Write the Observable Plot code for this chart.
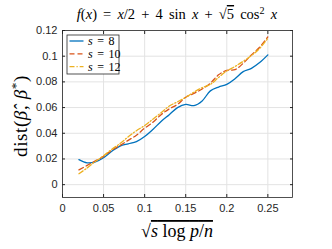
<!DOCTYPE html>
<html>
<head>
<meta charset="utf-8">
<script src="https://cdn.jsdelivr.net/npm/d3@7"></script>
<script src="https://cdn.jsdelivr.net/npm/@observablehq/plot@0.6"></script>
<style>
  html, body { margin: 0; padding: 0; background: #fff; }
  #chart svg { display: block; }
</style>
</head>
<body>
<div id="chart"></div>
<script>
// ---- data ----
const xValues = [0.02,0.03,0.04,0.05,0.06,0.07,0.08,0.09,0.10,0.11,0.12,0.13,0.14,0.15,0.16,0.17,0.18,0.19,0.20,0.21,0.22,0.23,0.24,0.25];
const s8  = [0.0195,0.0170,0.0178,0.0210,0.0260,0.0300,0.0318,0.0335,0.0375,0.0430,0.0492,0.0545,0.0600,0.0625,0.0615,0.0652,0.0730,0.0760,0.0780,0.0825,0.0880,0.0905,0.0950,0.1010];
const s10 = [0.0115,0.0150,0.0185,0.0220,0.0268,0.0305,0.0345,0.0385,0.0440,0.0485,0.0545,0.0590,0.0625,0.0680,0.0710,0.0745,0.0790,0.0855,0.0890,0.0895,0.0945,0.1010,0.1070,0.1150];
const s12 = [0.0085,0.0130,0.0180,0.0225,0.0275,0.0320,0.0372,0.0420,0.0460,0.0510,0.0560,0.0612,0.0645,0.0680,0.0720,0.0755,0.0780,0.0835,0.0885,0.0920,0.0960,0.1005,0.1060,0.1140];
const seriesNames = ["8", "10", "12"];
const seriesColors = ["#0072BD", "#D95319", "#EDB120"];
const seriesDash = [null, "5,3", "5,2,1.2,2"];
const xTicks = [0, 0.05, 0.1, 0.15, 0.2, 0.25];
const yTicks = [0, 0.02, 0.04, 0.06, 0.08, 0.1, 0.12];

const seriesValues = [s8, s10, s12];
const rows = [];
seriesValues.forEach((vals, i) => vals.forEach((v, j) => rows.push({x: xValues[j], y: v, s: seriesNames[i]})));

const fmt = d3.format("~g");
const lineMarks = seriesNames.map((name, i) =>
  Plot.line(rows.filter(r => r.s === name), {
    x: "x", y: "y", stroke: seriesColors[i], strokeWidth: 1.3,
    strokeDasharray: seriesDash[i], curve: "catmull-rom"
  })
);

const svg = Plot.plot({
  width: 332, height: 249,
  marginLeft: 62, marginRight: 40, marginTop: 30, marginBottom: 52,
  style: {fontFamily: "'Liberation Sans', Arial, sans-serif", fontSize: "11px", color: "#262626", background: "#fff"},
  x: {domain: [0, 0.28]},
  y: {domain: [-0.01, 0.12]},
  marks: [
    Plot.gridX(xTicks, {stroke: "#e3e3e3", strokeOpacity: 1}),
    Plot.gridY(yTicks, {stroke: "#e3e3e3", strokeOpacity: 1}),
    ...lineMarks,
    Plot.axisX(xTicks, {tickSize: -3, tickPadding: 10, tickFormat: fmt, label: null, stroke: "#262626"}),
    Plot.axisX(xTicks, {anchor: "top", tickSize: -3, tickFormat: () => "", label: null, stroke: "#262626"}),
    Plot.axisY(yTicks, {tickSize: -3, tickPadding: 8, tickFormat: fmt, label: null, stroke: "#262626"}),
    Plot.axisY(yTicks, {anchor: "right", tickSize: -3, tickFormat: () => "", label: null, stroke: "#262626"}),
    Plot.frame({stroke: "#262626", strokeWidth: 0.8})
  ]
});
document.getElementById("chart").appendChild(svg);

// ---- rich text annotations (title, axis labels, legend) ----
const root = d3.select(svg);
const serif = "'Liberation Serif', 'DejaVu Serif', serif";

function rich(sel, parts) {
  parts.forEach(p => {
    const t = sel.append("tspan").text(p.t);
    if (p.i) t.attr("font-style", "italic");
    if (p.sup) t.attr("baseline-shift", "super").attr("font-size", "70%");
    if (p.o) t.attr("text-decoration", "overline");
  });
}

// title
const title = root.append("text").attr("x", 177).attr("y", 19)
  .attr("text-anchor", "middle").attr("font-family", serif).attr("font-size", 14.5).attr("fill", "#000")
  .attr("word-spacing", 2.5);
rich(title, [
  {t: "f", i: 1}, {t: "("}, {t: "x", i: 1}, {t: ") = "}, {t: "x", i: 1}, {t: "/2 + 4 sin "}, {t: "x", i: 1},
  {t: " + √"}, {t: "5", o: 1}, {t: " cos"}, {t: "2", sup: 1}, {t: " "}, {t: "x", i: 1}
]);

// y label
const ylab = root.append("text").attr("transform", "translate(27,116) rotate(-90)")
  .attr("text-anchor", "middle").attr("font-family", serif).attr("font-size", 19).attr("fill", "#000")
  .attr("letter-spacing", 0.6);
rich(ylab, [{t: "dist("}, {t: "β̂", i: 1}, {t: ", "}, {t: "β", i: 1}, {t: "*", sup: 1}, {t: ")"}]);

// x label
const xlab = root.append("text").attr("x", 177).attr("y", 237)
  .attr("text-anchor", "middle").attr("font-family", serif).attr("font-size", 18).attr("fill", "#000");
rich(xlab, [{t: "√"}, {t: "s", i: 1, o: 1}]);
xlab.append("tspan").attr("text-decoration", "overline").text(" log ");
xlab.append("tspan").attr("text-decoration", "overline").attr("font-style", "italic").text("p");
xlab.append("tspan").attr("text-decoration", "overline").text("/");
xlab.append("tspan").attr("text-decoration", "overline").attr("font-style", "italic").text("n");

// legend
const lg = root.append("g").attr("transform", "translate(67,35)");
lg.append("rect").attr("width", 52).attr("height", 39).attr("fill", "#fff").attr("stroke", "#262626").attr("stroke-width", 0.8);
seriesNames.forEach((name, i) => {
  const cy = 6 + i * 12.8;
  lg.append("line").attr("x1", 2.5).attr("x2", 16.5).attr("y1", cy).attr("y2", cy)
    .attr("stroke", seriesColors[i]).attr("stroke-width", 1.3)
    .attr("stroke-dasharray", seriesDash[i]);
  const t = lg.append("text").attr("x", 21).attr("y", cy + 4).attr("text-anchor", "start")
    .attr("font-family", serif).attr("font-size", 12).attr("fill", "#000").attr("word-spacing", 1.5);
  rich(t, [{t: "s", i: 1}, {t: " = " + name}]);
});
</script>
</body>
</html>
